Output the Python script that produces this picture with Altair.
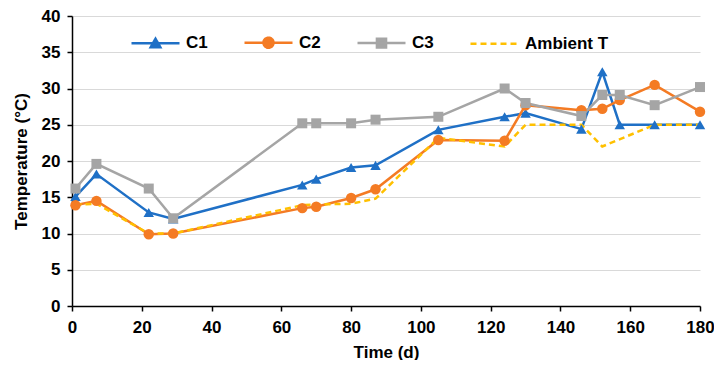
import altair as alt
import pandas as pd

days = [1, 7, 22, 29, 66, 70, 80, 87, 105, 124, 130, 146, 152, 157, 167, 180]
c1 = [15.1, 18.2, 12.9, 12.0, 16.7, 17.5, 19.1, 19.4, 24.3, 26.1, 26.6, 24.4, 32.3, 25.0, 25.0, 25.0]
c2 = [13.9, 14.5, 9.9, 10.0, 13.5, 13.7, 14.9, 16.1, 22.9, 22.8, 27.7, 27.0, 27.2, 28.4, 30.5, 26.8]
c3 = [16.2, 19.6, 16.2, 12.1, 25.2, 25.2, 25.2, 25.7, 26.1, 30.0, 28.0, 26.2, 29.1, 29.1, 27.7, 30.2]
amb_days = [1, 7, 22, 29, 66, 70, 80, 87, 105, 124, 130, 146, 152, 167, 180]
ambient = [14.0, 14.1, 10.0, 10.0, 13.9, 14.0, 14.1, 14.8, 23.2, 22.0, 25.0, 25.0, 22.0, 25.0, 25.0]

series = ["C1", "C2", "C3", "Ambient T"]
colors = ["#1F70C6", "#F47B24", "#A5A5A5", "#FFC000"]
x_ticks = list(range(0, 181, 20))
y_ticks = list(range(0, 41, 5))

rows = []
for name, vals in (("C1", c1), ("C2", c2), ("C3", c3)):
    for d, v in zip(days, vals):
        rows.append({"day": d, "temp": v, "series": name})
for d, v in zip(amb_days, ambient):
    rows.append({"day": d, "temp": v, "series": "Ambient T"})
df = pd.DataFrame(rows)

FONT = "Liberation Sans"

x_enc = alt.X("day:Q", scale=alt.Scale(domain=[0, 180], nice=False),
              axis=alt.Axis(values=x_ticks, title="Time (d)", grid=False,
                            labelPadding=8, titlePadding=9))
y_enc = alt.Y("temp:Q", scale=alt.Scale(domain=[0, 40], nice=False),
              axis=alt.Axis(values=y_ticks, title="Temperature (°C)", grid=True,
                            labelPadding=7, titlePadding=11))
# reversed order so that this (legend-less) scale is not merged with the legend scales
color_enc = alt.Color("series:N", scale=alt.Scale(domain=series[::-1], range=colors[::-1]), legend=None)

base = alt.Chart(df)

solid_lines = base.transform_filter(alt.datum.series != "Ambient T").mark_line(strokeWidth=2.5).encode(
    x=x_enc, y=y_enc, color=color_enc, detail="series:N")
amb_line = base.transform_filter(alt.datum.series == "Ambient T").mark_line(
    strokeWidth=2.5, strokeDash=[6, 4]).encode(x=x_enc, y=y_enc, color=color_enc)

def markers(name, shape, size):
    return base.transform_filter(alt.datum.series == name).mark_point(
        shape=shape, filled=True, opacity=1, size=size).encode(x=x_enc, y=y_enc, color=color_enc)

m1 = markers("C1", "triangle-up", 110)
m2 = markers("C2", "circle", 110)
m3 = markers("C3", "square", 100)

legend_paths = [
    "M-1,0H3M1,-0.38L1.4,0.32H0.6Z",
    "M-1,0H3M0.58,0A0.42,0.42,0,1,0,1.42,0A0.42,0.42,0,1,0,0.58,0Z",
    "M-1,0H3M0.62,-0.36H1.38V0.36H0.62Z",
    "M-1,0H3",
]
leg = alt.Legend(title=None, orient="none", legendX=58, legendY=13, direction="horizontal",
                 columns=4, columnPadding=31, labelOffset=29, symbolSize=576,
                 symbolStrokeWidth=2.5, labelFont=FONT, labelFontSize=17,
                 labelFontWeight="bold", labelColor="#000000", padding=0)
legend_layer = base.mark_point(filled=True, size=576, strokeWidth=2.5).encode(
    x=x_enc, y=y_enc,
    opacity=alt.condition("false", alt.value(1), alt.value(0)),
    fill=alt.Fill("series:N", scale=alt.Scale(domain=series, range=colors), legend=leg),
    stroke=alt.Stroke("series:N", scale=alt.Scale(domain=series, range=colors), legend=leg),
    shape=alt.Shape("series:N", scale=alt.Scale(domain=series, range=legend_paths), legend=leg),
    strokeDash=alt.StrokeDash("series:N", scale=alt.Scale(domain=series, range=[[1, 0], [1, 0], [1, 0], [6, 4]]), legend=leg),
)

chart = alt.layer(solid_lines, amb_line, m1, m2, m3, legend_layer).properties(
    width=628, height=290, autosize="none",
    padding={"left": 64, "top": 8, "right": 14, "bottom": 54},
).configure_view(stroke=None).configure_axis(
    labelFont=FONT, labelFontSize=17, labelFontWeight="bold", labelColor="#000000",
    titleFont=FONT, titleFontSize=17, titleFontWeight="bold", titleColor="#000000",
    domainColor="#000000", domainWidth=1.5, tickColor="#000000", tickSize=5, tickWidth=1.5,
    gridColor="#D9D9D9", gridWidth=1.2, labelFlush=False, labelOverlap=False,
)

chart.save("out.html", embed_options={"renderer": "svg", "actions": False})
